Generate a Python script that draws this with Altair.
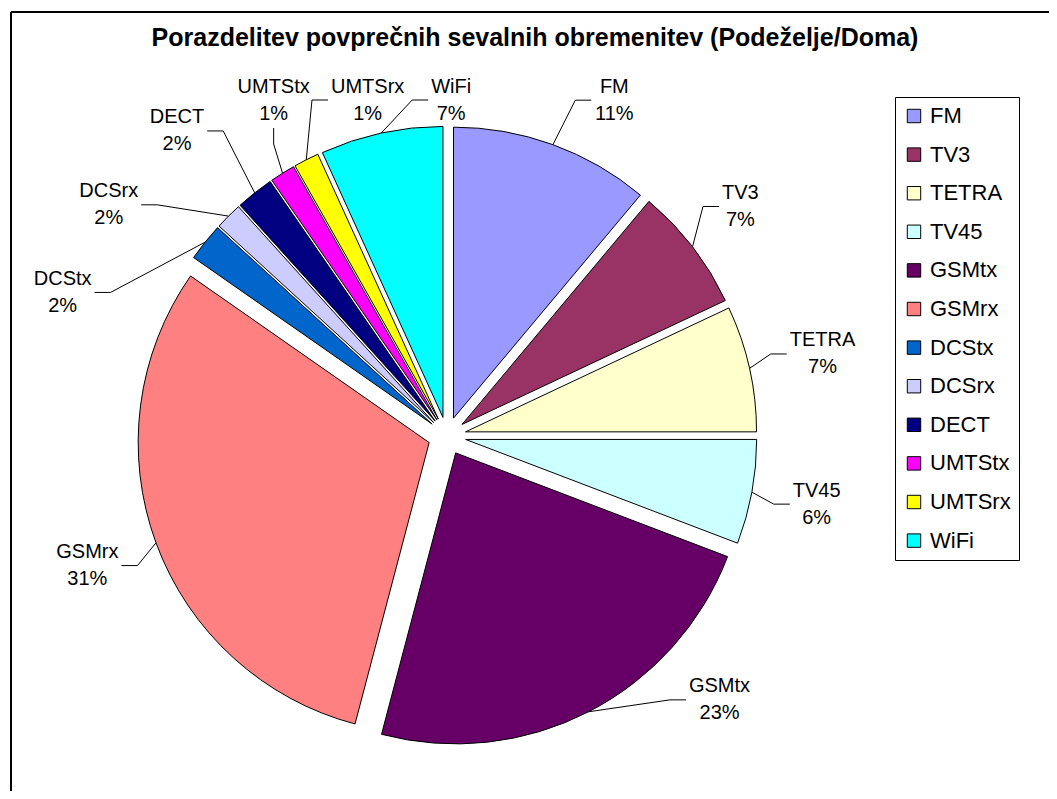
import math
import altair as alt
import numpy as np
import pandas as pd

# ---------------- data ----------------
categories = ["FM", "TV3", "TETRA", "TV45", "GSMtx", "GSMrx",
              "DCStx", "DCSrx", "DECT", "UMTStx", "UMTSrx", "WiFi"]
shares = [11.1, 6.9, 7.0, 5.8, 23.3, 30.6, 2.1, 1.5, 2.1, 1.4, 1.4, 6.8]
colors = ["#9999FF", "#993366", "#FFFFCC", "#CCFFFF", "#660066", "#FF8080",
          "#0066CC", "#CCCCFF", "#000080", "#FF00FF", "#FFFF00", "#00FFFF"]
title_text = "Porazdelitev povprečnih sevalnih obremenitev (Podeželje/Doma)"

# ---------------- layout parameters ----------------
W, H = 1041, 783
CX, CY = 439.0, 428.0      # pie centre (plot coordinates)
R = 291.0                  # pie radius
EXPLODE = 19.0             # explosion distance of every slice
GAP = 42.0                 # distance label <-> pie
EXTRA = 30.0               # extra distance for labels of crowded slices
MIN_SEP = 14.0             # minimal angular separation of labels (deg)
YTOP, YBOT = 68.0, 716.0   # label area limits
STUB = 16.0
FONT = "Liberation Sans"
LABEL_SIZE = 20
LINE_H = 27

# Arial width table (em) for label width estimate
EM = {"F": .611, "M": .833, "T": .611, "V": .667, "E": .667, "R": .722, "A": .667,
      "G": .778, "S": .667, "D": .722, "C": .722, "U": .722, "W": .944, "i": .222,
      "r": .333, "x": .5, "t": .278, "%": .889}


def text_w(s):
    return sum(EM.get(ch, .556) for ch in s) * LABEL_SIZE


vals = np.array(shares, dtype=float)
t1 = np.cumsum(vals)
t0 = t1 - vals
mid_deg = (t0 + t1) / 2 * 3.6
mid = np.radians(mid_deg)
n = len(categories)

slice_df = pd.DataFrame({
    "name": categories,
    "t0": t0,
    "t1": t1,
    "cx": CX + EXPLODE * np.sin(mid),
    "cy": CY - EXPLODE * np.cos(mid),
})

h = 2 * LINE_H - 6
pcts = [int(v + 0.5) for v in shares]
widths = [max(text_w(c), text_w(f"{p}%")) for c, p in zip(categories, pcts)]
crowded = [any(j != i and abs(mid_deg[j] - mid_deg[i]) < MIN_SEP for j in range(n))
           for i in range(n)]
dist = [R + EXPLODE + GAP + (EXTRA if crowded[i] else 0.0) for i in range(n)]


def place(i, theta_deg):
    th = math.radians(theta_deg)
    ux, uy = math.sin(th), -math.cos(th)
    w = widths[i]
    return CX + dist[i] * ux + (w / 2) * ux, CY + dist[i] * uy + (h / 2) * uy, ux, uy


# ---- label angle spreading ----
ang = mid_deg.copy()
for _ in range(500):
    order = np.argsort(ang)
    for a, b in zip(order[:-1], order[1:]):
        d = ang[b] - ang[a]
        if d < MIN_SEP:
            p = (MIN_SEP - d) / 2
            ang[a] -= p
            ang[b] += p

label_rows, line_rows = [], []
for i, name in enumerate(categories):
    txt = f"{name}\n{pcts[i]}%"
    w = widths[i]
    a = ang[i]
    lx, ly, ux, uy = place(i, a)
    for _ in range(800):                       # keep inside the label area
        if ly + h / 2 > YBOT:
            a += -0.25 if ux > 0 else 0.25
        elif ly - h / 2 < YTOP and ux >= 0.3:
            a += 0.25
        else:
            break
        lx, ly, ux, uy = place(i, a)
    if ly - h / 2 < YTOP:                      # slide inward along the ray
        t = (CY - (YTOP + h / 2)) / max(-uy, 1e-6)
        lx, ly = CX + t * ux, YTOP + h / 2
    # Vega puts the first text line at y: lift by half a line to centre the block
    label_rows.append({"name": name, "lx": lx, "ly": ly - LINE_H / 2, "txt": txt})

    # leader line: arc point -> elbow -> label edge
    px = CX + (R + EXPLODE) * math.sin(mid[i])
    py = CY - (R + EXPLODE) * math.cos(mid[i])
    left, right = lx - w / 2 - 3, lx + w / 2 + 3
    if px < left:
        ex, ey = left, ly
        bx, by = ex - STUB, ey
    elif px > right:
        ex, ey = right, ly
        bx, by = ex + STUB, ey
    else:
        if py > ly:
            ex, ey = lx, ly + h / 2 + 4
            bx, by = ex, ey + STUB
        else:
            ex, ey = lx, ly - h / 2 - 4
            bx, by = ex, ey - STUB
    for k, (x, y) in enumerate([(px, py), (bx, by), (ex, ey)]):
        line_rows.append({"name": name, "k": k, "lx": x, "ly": y})

label_df = pd.DataFrame(label_rows)
line_df = pd.DataFrame(line_rows)

xs = alt.Scale(domain=[0, W], nice=False, zero=False)
ys = alt.Scale(domain=[0, H], nice=False, zero=False, reverse=True)

arcs = alt.Chart(slice_df).mark_arc(
    radius=R, stroke="black", strokeWidth=1, opacity=1
).encode(
    x=alt.X("cx:Q", scale=xs, axis=None, stack=None),
    y=alt.Y("cy:Q", scale=ys, axis=None, stack=None),
    theta=alt.Theta("t0:Q", scale=alt.Scale(domain=[0, 100], range=[0, 2 * math.pi]), stack=None),
    theta2="t1:Q",
    color=alt.Color(
        "name:N",
        scale=alt.Scale(domain=categories, range=colors),
        sort=categories,
        legend=alt.Legend(
            title=None, orient="none", legendX=887, legendY=89,
            symbolType="square", symbolSize=180, symbolStrokeColor="black",
            symbolStrokeWidth=1, labelFont=FONT, labelFontSize=22,
            labelColor="black", rowPadding=16.6, padding=8, labelOffset=5,
            strokeColor="black", fillColor="white", labelLimit=200,
        ),
    ),
)

leaders = alt.Chart(line_df).mark_line(color="black", strokeWidth=1).encode(
    x=alt.X("lx:Q", scale=xs, axis=None),
    y=alt.Y("ly:Q", scale=ys, axis=None),
    detail="name:N",
    order="k:Q",
)

labels = alt.Chart(label_df).mark_text(
    font=FONT, fontSize=LABEL_SIZE, lineBreak="\n", lineHeight=LINE_H,
    align="center", baseline="middle", color="black"
).encode(
    x=alt.X("lx:Q", scale=xs, axis=None),
    y=alt.Y("ly:Q", scale=ys, axis=None),
    text="txt:N",
)

frame_df = pd.DataFrame({"t": [title_text]})
title = alt.Chart(frame_df).mark_text(
    font=FONT, fontSize=25, fontWeight="bold", color="black",
    align="center", baseline="middle"
).encode(x=alt.value(527), y=alt.value(30), text="t:N")

border_left = alt.Chart(frame_df).mark_rule(color="black", strokeWidth=2).encode(
    x=alt.value(3), y=alt.value(4), y2=alt.value(H)
)
border_top = alt.Chart(frame_df).mark_rule(color="black", strokeWidth=2).encode(
    x=alt.value(3), x2=alt.value(W), y=alt.value(4)
)

chart = alt.layer(
    arcs, leaders, labels, title, border_left, border_top
).properties(
    width=W, height=H, autosize=alt.AutoSizeParams(type="none"), padding=0,
    background="white"
).configure_view(stroke=None)

chart.save("out.html", embed_options={"renderer": "svg", "actions": False})
